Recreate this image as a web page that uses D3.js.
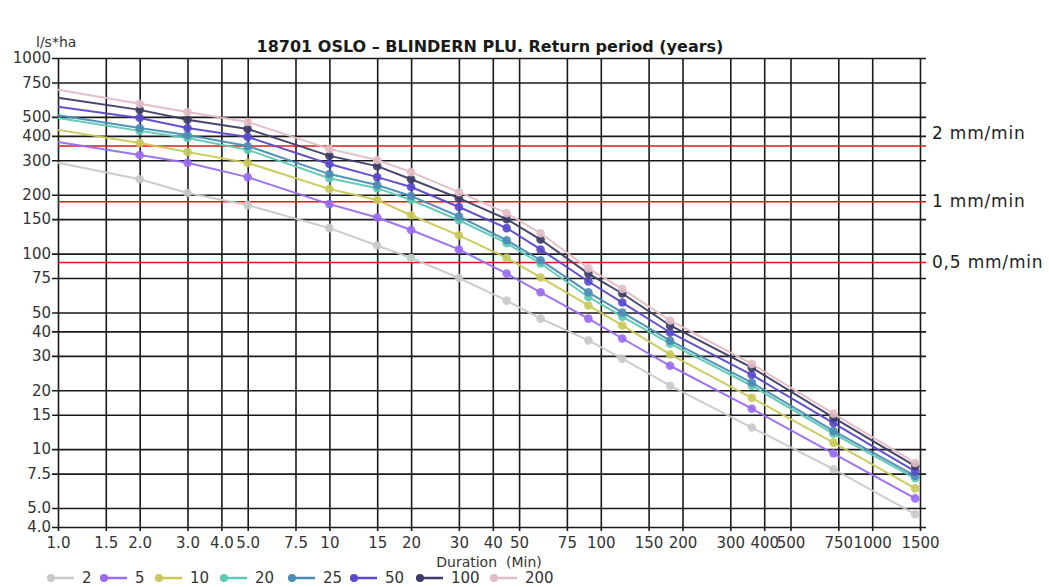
<!DOCTYPE html>
<html>
<head>
<meta charset="utf-8">
<script src="https://cdn.jsdelivr.net/npm/d3@7"></script>
<style>
  html, body { margin: 0; padding: 0; background: #fff; }
  svg { display: block; font-family: "DejaVu Sans", sans-serif; }
</style>
</head>
<body>
<svg id="chart" width="1049" height="587"></svg>
<script>
// Durations (minutes) at which intensities are tabulated
const durations = [1, 2, 3, 5, 10, 15, 20, 30, 45, 60, 90, 120, 180, 360, 720, 1440];

// Return periods (years)
const returnPeriods = ["2", "5", "10", "20", "25", "50", "100", "200"];

// Rain intensity (l/s*ha) per return period, one value per duration
const rp2   = [291, 240, 204, 177, 135, 110, 95, 75, 57.5, 46.5, 36, 29, 21.1, 12.9, 7.9, 4.65];
const rp5   = [372, 319, 291, 246, 179, 153, 132, 105, 79, 63.4, 46.5, 36.8, 26.7, 16.1, 9.5, 5.6];
const rp10  = [429, 368, 331, 291, 214, 188, 157, 124, 95, 75.5, 54.3, 42.9, 30.5, 18.3, 10.8, 6.3];
const rp20  = [494, 424, 390, 339, 243, 216, 188, 148, 113, 89, 60, 47.6, 34.6, 21.1, 12, 7.1];
const rp25  = [509, 439, 404, 355, 255, 224, 197, 155, 117, 92.5, 63.4, 50, 35.9, 21.9, 12.4, 7.3];
const rp50  = [563, 494, 439, 395, 287, 246, 219, 173, 135, 105, 72, 56.2, 39.5, 24, 13.6, 7.7];
const rp100 = [626, 543, 483, 434, 316, 280, 240, 192, 150, 118, 79, 62.5, 42.9, 26.1, 14.5, 8.2];
const rp200 = [688, 583, 530, 471, 343, 301, 261, 206, 161, 127, 84, 66, 45.5, 27.3, 15.2, 8.5];

const seriesValues = [rp2, rp5, rp10, rp20, rp25, rp50, rp100, rp200];
const seriesColors = ["#c9c9c9", "#9a6cf2", "#c9c95a", "#5cc9b2", "#4b8cb6", "#5848cc", "#3c3c66", "#e2bcc4"];

// Axis ticks
const xTicks = [1, 1.5, 2, 3, 4, 5, 7.5, 10, 15, 20, 30, 40, 50, 75, 100, 150, 200, 300, 400, 500, 750, 1000, 1500];
const xTickLabels = ["1.0", "1.5", "2.0", "3.0", "4.0", "5.0", "7.5", "10", "15", "20", "30", "40", "50", "75", "100", "150", "200", "300", "400", "500", "750", "1000", "1500"];
const yTicks = [4, 5, 7.5, 10, 15, 20, 30, 40, 50, 75, 100, 150, 200, 300, 400, 500, 750, 1000];
const yTickLabels = ["4.0", "5.0", "7.5", "10", "15", "20", "30", "40", "50", "75", "100", "150", "200", "300", "400", "500", "750", "1000"];

// Intensity thresholds (l/s*ha) with their labels
const thresholdNames = ["2 mm/min", "1 mm/min", "0,5 mm/min"];
const thresholdValues = [355, 184, 90];
const thresholdLabelValues = [415, 186, 90.5];

(function draw() {
  const svg = d3.select("#chart");
  const plotLeft = 58, plotRight = 920, plotTop = 58, plotBottom = 527;

  const x = d3.scaleLog().domain([1, 1500]).range([plotLeft, plotRight]);
  const y = d3.scaleLog().domain([4, 1000]).range([plotBottom, plotTop]);

  // Title
  svg.append("text")
    .attr("x", 490).attr("y", 52)
    .attr("text-anchor", "middle")
    .attr("font-size", 16).attr("font-weight", "bold")
    .attr("fill", "#1a1a1a")
    .text("18701 OSLO \u2013 BLINDERN PLU. Return period (years)");

  // Unit label
  svg.append("text")
    .attr("x", 36).attr("y", 47)
    .attr("font-size", 14).attr("fill", "#333")
    .text("l/s*ha");

  // Grid lines through the axis generators
  const gridY = d3.axisLeft(y).tickValues(yTicks)
    .tickSize(-(plotRight - plotLeft) - 6).tickFormat((d, i) => yTickLabels[i]).tickPadding(3);
  const gy = svg.append("g").attr("transform", `translate(${plotLeft},0)`).call(gridY);
  gy.select(".domain").remove();
  gy.selectAll(".tick line").attr("x1", -6).attr("stroke", "#1a1a1a").attr("stroke-width", 1.6);
  gy.selectAll(".tick text").attr("font-size", 15).attr("fill", "#333")
    .attr("font-family", "DejaVu Sans, sans-serif").attr("x", -7);

  const gridX = d3.axisBottom(x).tickValues(xTicks)
    .tickSize(-(plotBottom - plotTop)).tickFormat((d, i) => xTickLabels[i]).tickPadding(6);
  const gx = svg.append("g").attr("transform", `translate(0,${plotBottom})`).call(gridX);
  gx.select(".domain").remove();
  gx.selectAll(".tick line").attr("y1", 4).attr("stroke", "#1a1a1a").attr("stroke-width", 1.6);
  gx.selectAll(".tick text").attr("font-size", 15).attr("fill", "#333")
    .attr("font-family", "DejaVu Sans, sans-serif").attr("y", 10);

  // Axis title
  svg.append("text")
    .attr("x", 489).attr("y", 567)
    .attr("text-anchor", "middle")
    .attr("font-size", 14).attr("fill", "#333")
    .attr("xml:space", "preserve")
    .text("Duration  (Min)");

  // Threshold lines
  svg.append("g").selectAll("line")
    .data(thresholdValues)
    .join("line")
    .attr("x1", plotLeft).attr("x2", plotRight + 6)
    .attr("y1", d => y(d)).attr("y2", d => y(d))
    .attr("stroke", "#e01818").attr("stroke-width", 1.5);

  svg.append("g").selectAll("text")
    .data(thresholdNames)
    .join("text")
    .attr("x", 932)
    .attr("y", (d, i) => y(thresholdLabelValues[i]))
    .attr("dy", "0.35em")
    .attr("font-size", 17).attr("letter-spacing", 0.8).attr("fill", "#222")
    .text(d => d);

  // Series lines and markers
  const line = d3.line().x((d, i) => x(durations[i])).y(d => y(d));
  const series = svg.append("g").selectAll("g")
    .data(seriesValues)
    .join("g");

  series.append("path")
    .attr("d", d => line(d))
    .attr("fill", "none")
    .attr("stroke", (d, i) => seriesColors[i])
    .attr("stroke-width", 2)
    .attr("opacity", 0.95);

  series.each(function (vals, si) {
    d3.select(this).selectAll("circle")
      .data(vals.slice(1))
      .join("circle")
      .attr("cx", (d, i) => x(durations[i + 1]))
      .attr("cy", d => y(d))
      .attr("r", 4.3)
      .attr("fill", seriesColors[si])
      .attr("opacity", 0.9);
  });

  // Legend
  const legendX = [47, 100, 155, 220, 288, 350, 416, 490];
  const legend = svg.append("g").selectAll("g")
    .data(returnPeriods)
    .join("g")
    .attr("transform", (d, i) => `translate(${legendX[i]},578)`);

  legend.append("line")
    .attr("x1", 0).attr("x2", 27).attr("y1", 0).attr("y2", 0)
    .attr("stroke", (d, i) => seriesColors[i]).attr("stroke-width", 2.5);
  legend.append("circle")
    .attr("cx", 4).attr("cy", 0).attr("r", 4)
    .attr("fill", (d, i) => seriesColors[i]);
  legend.append("text")
    .attr("x", 35).attr("y", 0).attr("dy", "0.35em")
    .attr("font-size", 15).attr("fill", "#333")
    .text(d => d);
})();
</script>
</body>
</html>
